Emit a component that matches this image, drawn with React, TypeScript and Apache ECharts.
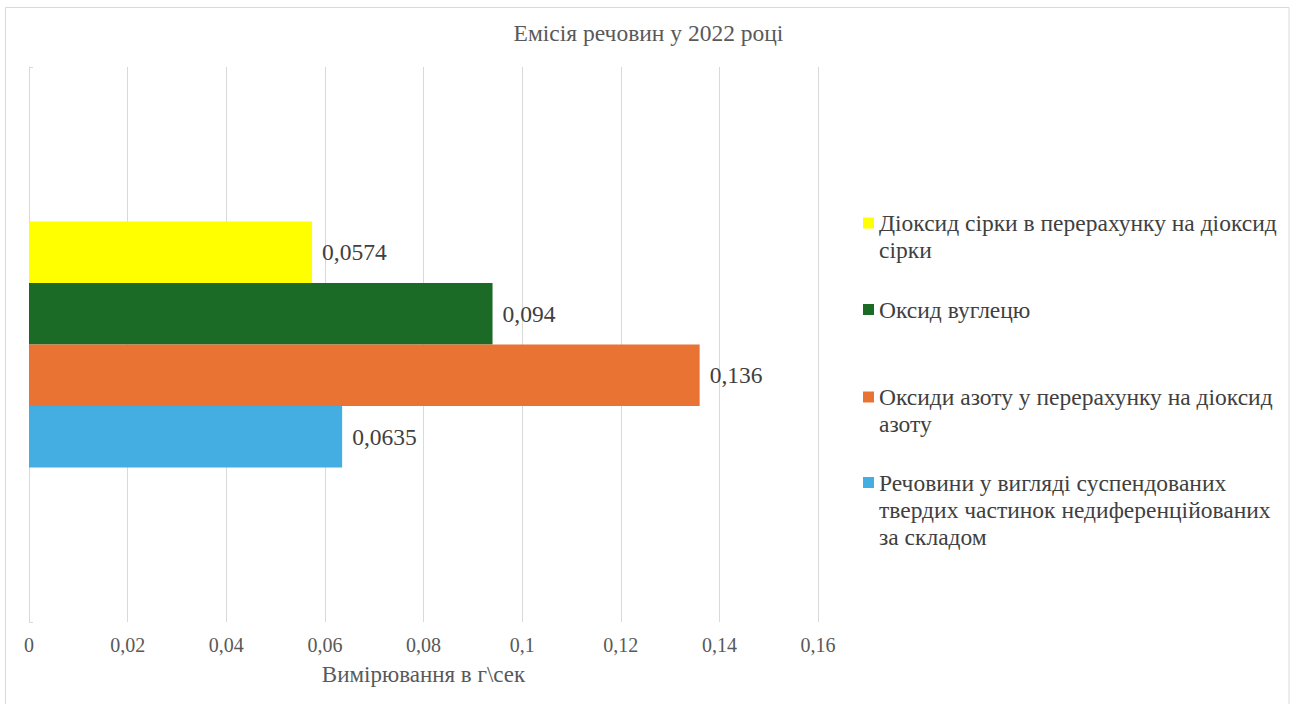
import React, { useEffect, useRef } from "react";
import * as echarts from "echarts";

// Emission of substances in 2022, g/sec
const categories = ["2022"];
const seriesNames = [
  "Діоксид сірки в перерахунку на діоксид сірки",
  "Оксид вуглецю",
  "Оксиди азоту у перерахунку на діоксид азоту",
  "Речовини у вигляді суспендованих твердих частинок недиференційованих за складом",
];
const legendLines = [
  ["Діоксид сірки в перерахунку на діоксид", "сірки"],
  ["Оксид вуглецю"],
  ["Оксиди азоту у перерахунку на діоксид", "азоту"],
  ["Речовини у вигляді суспендованих", "твердих частинок недиференційованих", "за складом"],
];
const seriesValues = [0.0574, 0.094, 0.136, 0.0635];
const seriesColors = ["#FFFF00", "#1B6B26", "#E87332", "#44AEE3"];
const axisMin = 0;
const axisMax = 0.16;
const axisStep = 0.02;

const FONT = "Liberation Serif";
const LEGEND_LINE = 27;
// vertical centre of each legend entry's first line
const legendCenters = [223, 309.5, 397, 482.5];

const fmt = (v: number) => String(+v.toFixed(4)).replace(".", ",");

export default function App() {
  const ref = useRef<HTMLDivElement>(null);

  useEffect(() => {
    if (!ref.current) return;
    const chart = echarts.init(ref.current, undefined, { renderer: "svg" });

    // one legend block per series so the marker sits beside the first text line;
    // blank leading lines keep that line on the marker's centre
    const legends = seriesNames.map((name, i) => {
      const n = legendLines[i].length;
      return {
        left: 863,
        top: legendCenters[i] - ((2 * n - 1) * LEGEND_LINE) / 2,
        orient: "vertical",
        padding: 0,
        itemWidth: 11,
        itemHeight: 11,
        icon: "rect",
        selectedMode: false,
        data: [name],
        formatter: () => "\n".repeat(n - 1) + legendLines[i].join("\n"),
        textStyle: {
          fontFamily: FONT,
          fontSize: 23.5,
          color: "#404040",
          lineHeight: LEGEND_LINE,
        },
      };
    });

    chart.setOption({
      animation: false,
      backgroundColor: "#ffffff",
      textStyle: { fontFamily: FONT },
      title: {
        text: "Емісія речовин у 2022 році",
        left: "center",
        top: 16,
        textStyle: {
          fontFamily: FONT,
          fontSize: 23.5,
          fontWeight: "normal",
          color: "#595959",
        },
      },
      legend: legends,
      grid: { left: 29, right: 479, top: 67, bottom: 82, containLabel: false },
      xAxis: {
        type: "value",
        min: axisMin,
        max: axisMax,
        interval: axisStep,
        name: "Вимірювання в г\\сек",
        nameLocation: "middle",
        nameGap: 41,
        nameTextStyle: { fontFamily: FONT, fontSize: 23, color: "#595959" },
        axisLine: { show: false },
        axisTick: { show: false },
        axisLabel: {
          margin: 13,
          fontFamily: FONT,
          fontSize: 20,
          color: "#595959",
          formatter: (v: number) => fmt(v),
        },
        splitLine: { show: true, lineStyle: { color: "#d9d9d9", width: 1 } },
      },
      yAxis: {
        type: "category",
        data: categories,
        axisLabel: { show: false },
        axisLine: { show: true, lineStyle: { color: "#d9d9d9" } },
        axisTick: { show: true, inside: true, length: 4, lineStyle: { color: "#d9d9d9" } },
      },
      series: seriesNames.map((name, i) => ({
        type: "bar",
        name,
        data: [seriesValues[i]],
        barGap: "0%",
        barCategoryGap: "55.7%",
        itemStyle: { color: seriesColors[i] },
        label: {
          show: true,
          position: "right",
          distance: 10,
          fontFamily: FONT,
          fontSize: 23.5,
          color: "#404040",
          formatter: (p: any) => fmt(p.value),
        },
      })),
      graphic: [
        {
          type: "rect",
          shape: { x: 5.5, y: 7.5, width: 1283.5, height: 720 },
          style: { fill: "none", stroke: "#d9d9d9", lineWidth: 1 },
          silent: true,
        },
      ],
    });

    return () => chart.dispose();
  }, []);

  return (
    <div
      ref={ref}
      style={{ position: "fixed", left: 0, top: 0, width: 1297, height: 704 }}
    />
  );
}
